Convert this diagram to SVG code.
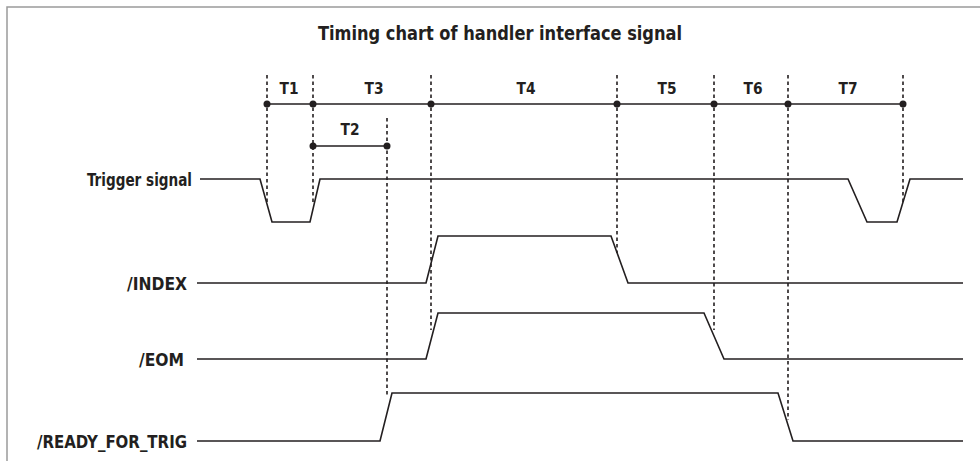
<svg xmlns="http://www.w3.org/2000/svg" width="980" height="461" viewBox="0 0 980 461">
<style>
.t{font-family:"Liberation Sans Narrow","DejaVu Sans Condensed","Liberation Sans",sans-serif;font-weight:bold;fill:#231f20;font-stretch:condensed}
.sig{fill:none;stroke:#231f20;stroke-width:1.6;stroke-linejoin:miter}
.dash{fill:none;stroke:#231f20;stroke-width:1.6;stroke-dasharray:3.5 3}
.tl{fill:none;stroke:#231f20;stroke-width:1.6}
.dot{fill:#231f20}
</style>
<rect x="7" y="7" width="990" height="470" fill="#fff" stroke="#9a9a9a" stroke-width="1.5"/>
<text class="t" x="500" y="40" font-size="19.5" text-anchor="middle" textLength="364" lengthAdjust="spacingAndGlyphs">Timing chart of handler interface signal</text>
<g id="connectors">
<path class="dash" d="M267 75V202 M313 75V202 M387 118V396 M431 75V330 M617 75V253 M714 75V330 M788 75V420 M903 75V202"/>
<path class="tl" d="M267 104H903 M313 146H387"/>
<g class="dot">
<circle cx="267" cy="104" r="3.5"/><circle cx="313" cy="104" r="3.5"/><circle cx="431" cy="104" r="3.5"/><circle cx="617" cy="104" r="3.5"/><circle cx="714" cy="104" r="3.5"/><circle cx="788" cy="104" r="3.5"/><circle cx="903" cy="104" r="3.5"/>
<circle cx="313" cy="146" r="3.5"/><circle cx="387" cy="146" r="3.5"/>
</g>
</g>
<g id="labels-timing">
<text class="t" x="289" y="94" font-size="16" text-anchor="middle" textLength="19" lengthAdjust="spacingAndGlyphs">T1</text>
<text class="t" x="374" y="94" font-size="16" text-anchor="middle" textLength="19" lengthAdjust="spacingAndGlyphs">T3</text>
<text class="t" x="526" y="94" font-size="16" text-anchor="middle" textLength="19" lengthAdjust="spacingAndGlyphs">T4</text>
<text class="t" x="667" y="94" font-size="16" text-anchor="middle" textLength="19" lengthAdjust="spacingAndGlyphs">T5</text>
<text class="t" x="753" y="94" font-size="16" text-anchor="middle" textLength="19" lengthAdjust="spacingAndGlyphs">T6</text>
<text class="t" x="848" y="94" font-size="16" text-anchor="middle" textLength="19" lengthAdjust="spacingAndGlyphs">T7</text>
<text class="t" x="350" y="135" font-size="16" text-anchor="middle" textLength="19" lengthAdjust="spacingAndGlyphs">T2</text>
</g>
<g id="trigger">
<text class="t" x="192" y="186" font-size="17" text-anchor="end" textLength="105" lengthAdjust="spacingAndGlyphs">Trigger signal</text>
<path class="sig" d="M200 179H260L272 222H310L320 179H848L867 222H897L910 179H963"/>
</g>
<g id="index">
<text class="t" x="187" y="290" font-size="17" text-anchor="end" textLength="60" lengthAdjust="spacingAndGlyphs">/INDEX</text>
<path class="sig" d="M197 283H426L438 236H611L628 283H963"/>
</g>
<g id="eom">
<text class="t" x="184" y="366" font-size="17" text-anchor="end" textLength="45" lengthAdjust="spacingAndGlyphs">/EOM</text>
<path class="sig" d="M197 359H426L438 313H704L724 359H963"/>
</g>
<g id="ready">
<text class="t" x="187" y="448" font-size="17" text-anchor="end" textLength="150" lengthAdjust="spacingAndGlyphs">/READY_FOR_TRIG</text>
<path class="sig" d="M197 441H380L392 393H778L793 441H963"/>
</g>
</svg>
